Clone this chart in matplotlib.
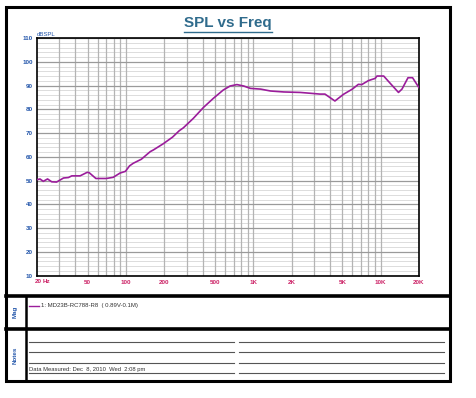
import matplotlib
matplotlib.use("Agg")
import matplotlib.pyplot as plt
from matplotlib.patches import Rectangle
import numpy as np

plt.rcParams['font.family'] = ['Liberation Sans', 'DejaVu Sans']

# SPL response
freq_hz = [20, 21.1, 22.4, 24.2, 26.1, 28.5, 32.3, 35.3, 37.5, 43.6, 49.6, 51.5,
           58, 70, 79.4, 89.9, 99, 106.6, 114, 132, 155, 164, 196, 232, 262, 282,
           338, 406, 485, 580, 657, 743, 840, 949, 1140, 1365, 1735, 2333, 2874,
           3340, 3652, 4373, 5100, 5990, 6680, 7100, 8030, 9050, 9350, 10560,
           11900, 13800, 14700, 16400, 17800, 20000]
spl_db = [50.4, 50.7, 49.7, 50.7, 49.5, 49.4, 51.1, 51.3, 52.0, 52.0, 53.5, 53.3,
          50.9, 50.9, 51.4, 53.2, 53.9, 56.2, 57.3, 59.0, 62.2, 62.9, 65.5, 68.3, 71.0, 72.2,
          76.2, 80.8, 84.6, 88.1, 89.8, 90.4, 89.8, 88.8, 88.5, 87.7, 87.3, 87.1, 86.7,
          86.4, 86.4, 83.5, 86.3, 88.5, 90.5, 90.4, 92.1, 93.0, 94.0, 94.0,
          90.9, 87.1, 88.5, 93.3, 93.3, 89.1]

x_ticks = [20, 50, 100, 200, 500, 1000, 2000, 5000, 10000, 20000]
x_labels = ['', '50', '100', '200', '500', '1K', '2K', '5K', '10K', '20K']
y_ticks = list(range(10, 111, 10))

legend_text = '1: MD23B-RC788-R8  ( 0.89V-0.1M)'
date_text = 'Data Measured: Dec  8, 2010  Wed  2:08 pm'

W, H = 476, 398
fig = plt.figure(figsize=(W / 100, H / 100), dpi=100)

# overlay in pixel coordinates for the frame and the lower sections
ov = fig.add_axes([0, 0, 1, 1], zorder=0)
ov.set_xlim(0, W)
ov.set_ylim(H, 0)
ov.axis('off')

ov.add_patch(Rectangle((6, 7), 444, 374, fill=False, lw=2.2, ec='black'))
ov.plot([6, 450], [296, 296], color='black', lw=2.6)
ov.plot([6, 450], [329, 329], color='black', lw=2.6)
ov.plot([25.5, 25.5], [296, 381], color='black', lw=1.8)

ov.text(228, 23.5, 'SPL vs Freq', ha='center', va='center', fontsize=11,
        fontweight='bold', color='#2f6b8c')
ov.plot([184, 272], [31.8, 31.8], color='#2f6b8c', lw=1)

ov.text(15.5, 312, 'Mag', rotation=90, ha='center', va='center', fontsize=4.5,
        fontweight='bold', color='#2255aa')
ov.text(15.5, 355, 'Notes', rotation=90, ha='center', va='center', fontsize=4.5,
        fontweight='bold', color='#2255aa')

ov.plot([29, 39], [305.7, 305.7], color='#9b1d9b', lw=1)
ov.text(41, 305.7, legend_text, ha='left', va='center', fontsize=4.3, color='#333333')

for yy in [342, 352.3, 363, 373.3]:
    ov.plot([29, 234], [yy, yy], color='#555555', lw=0.8)
    ov.plot([239, 444], [yy, yy], color='#555555', lw=0.8)
ov.text(29, 371.5, date_text, ha='left', va='bottom', fontsize=4.2, color='#333333')

ov.text(37, 34, 'dBSPL', ha='left', va='center', fontsize=4.3, color='#2255aa')
ov.text(405, 268, 'LMS', ha='center', va='center', fontsize=7, fontstyle='italic',
        family='DejaVu Serif', color='black')

# main response axes
left, right, top, bottom = 37, 419, 38, 275.7
ax = fig.add_axes([left / W, 1 - bottom / H, (right - left) / W, (bottom - top) / H], zorder=1)
ax.set_xscale('log')
ax.set_xlim(20, 20000)
ax.set_ylim(10, 110)

for dec in [10, 100, 1000, 10000]:
    for m in range(1, 10):
        f = dec * m
        if 20 < f < 20000:
            ax.axvline(f, color='#b4b4b4', lw=0.9, zorder=1)
for v in range(10, 111, 2):
    if v % 10 == 0:
        ax.axhline(v, color='#9a9a9a', lw=0.9, zorder=1)
    else:
        ax.axhline(v, color='#dcdcdc', lw=0.7, zorder=0.5)

ax.plot(freq_hz, spl_db, color='#9b1d9b', lw=1.2, zorder=3)

ax.set_xticks(x_ticks)
ax.set_xticklabels(x_labels)
ax.xaxis.set_minor_locator(matplotlib.ticker.NullLocator())
ax.set_yticks(y_ticks)
ax.tick_params(axis='both', length=0, labelsize=4.5, pad=3)
for lbl in ax.get_xticklabels():
    lbl.set_color('#cc2266')
    lbl.set_fontweight('bold')
for lbl in ax.get_yticklabels():
    lbl.set_color('#2255aa')
    lbl.set_fontweight('bold')
ov.text(38.7, 281.7, '20', ha='center', va='center',
        fontsize=4.5, fontweight='bold', color='#cc2266')
ov.text(46.5, 281.7, 'Hz', ha='center', va='center',
        fontsize=4.5, fontweight='bold', color='#cc2266')

for s in ax.spines.values():
    s.set_color('black')
    s.set_linewidth(1.2)

fig.savefig('out.png', dpi=100, facecolor='white')
